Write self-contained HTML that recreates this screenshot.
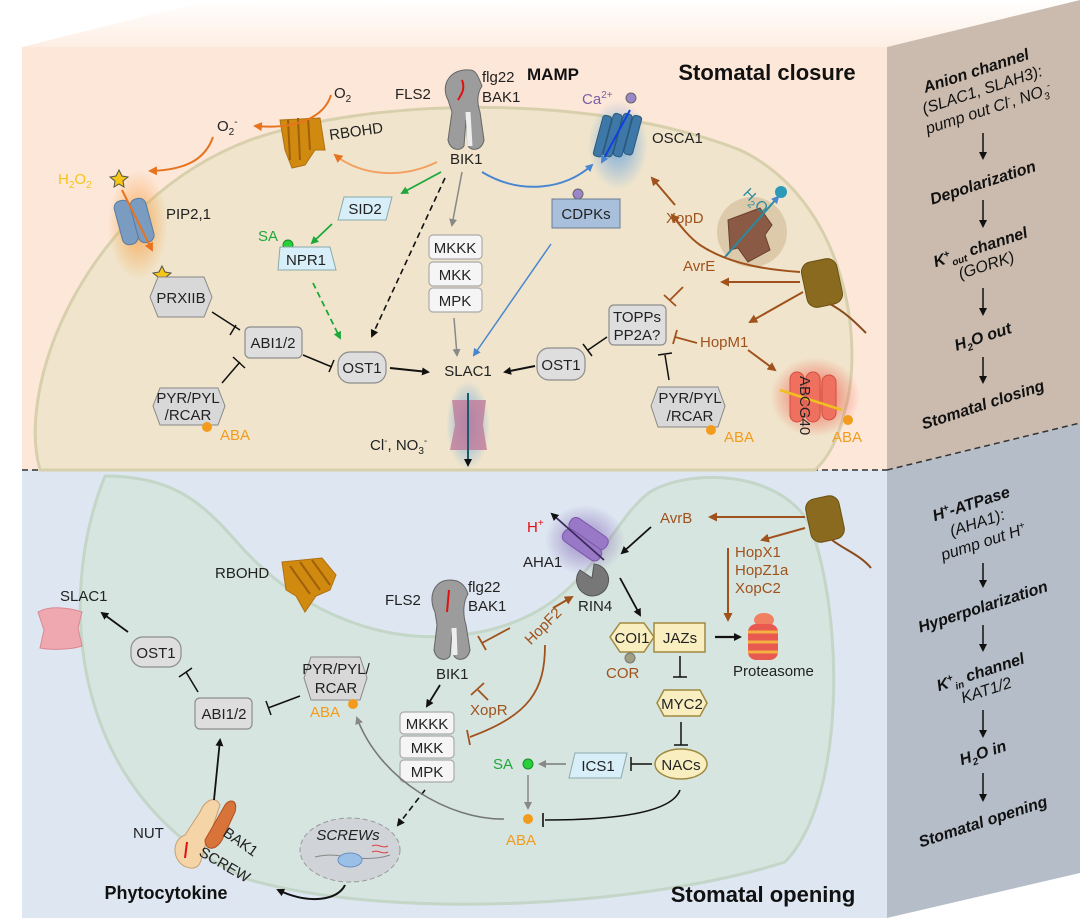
<!DOCTYPE html>
<html><head><meta charset="utf-8"><style>
html,body{margin:0;padding:0;background:#fff;}
svg{display:block;font-family:"Liberation Sans",sans-serif;}
.t{font-size:15px;fill:#222;}
.b{font-size:15px;fill:#a0521d;}
.o{font-size:15px;fill:#f29b1d;}
.bx{fill:#dedede;stroke:#8d8d8d;stroke-width:1.2;}
.wb{fill:#f5f5f5;stroke:#aaa;stroke-width:1.2;}
.rf{font-size:16px;fill:#111;text-anchor:middle;font-style:italic;}
.rb{font-weight:bold;}
</style></head><body>
<svg width="1080" height="924" viewBox="0 0 1080 924" xmlns="http://www.w3.org/2000/svg">
<defs>
<marker id="k" markerWidth="8" markerHeight="8" refX="6" refY="4" orient="auto" markerUnits="userSpaceOnUse"><path d="M0,0 L8,4 L0,8 Z" fill="#111"/></marker>
<marker id="g" markerWidth="8" markerHeight="8" refX="6" refY="4" orient="auto" markerUnits="userSpaceOnUse"><path d="M0,0 L8,4 L0,8 Z" fill="#888"/></marker>
<marker id="gr" markerWidth="8" markerHeight="8" refX="6" refY="4" orient="auto" markerUnits="userSpaceOnUse"><path d="M0,0 L8,4 L0,8 Z" fill="#1fa83a"/></marker>
<marker id="bl" markerWidth="8" markerHeight="8" refX="6" refY="4" orient="auto" markerUnits="userSpaceOnUse"><path d="M0,0 L8,4 L0,8 Z" fill="#4a86d0"/></marker>
<marker id="br" markerWidth="9" markerHeight="9" refX="7" refY="4.5" orient="auto" markerUnits="userSpaceOnUse"><path d="M0,0 L9,4.5 L0,9 Z" fill="#a0521d"/></marker>
<marker id="or" markerWidth="9" markerHeight="9" refX="7" refY="4.5" orient="auto" markerUnits="userSpaceOnUse"><path d="M0,0 L9,4.5 L0,9 Z" fill="#e8731e"/></marker>
<radialGradient id="glowB"><stop offset="0" stop-color="#5a9be0" stop-opacity=".8"/><stop offset="1" stop-color="#5a9be0" stop-opacity="0"/></radialGradient>
<radialGradient id="glowO"><stop offset="0" stop-color="#f79a3a" stop-opacity=".8"/><stop offset="1" stop-color="#f79a3a" stop-opacity="0"/></radialGradient>
<radialGradient id="glowR"><stop offset="0" stop-color="#f23a2a" stop-opacity=".8"/><stop offset="1" stop-color="#f23a2a" stop-opacity="0"/></radialGradient>
<radialGradient id="glowP"><stop offset="0" stop-color="#7a5ab0" stop-opacity=".7"/><stop offset="1" stop-color="#7a5ab0" stop-opacity="0"/></radialGradient>
<linearGradient id="topf" x1="0" y1="0" x2="0" y2="1"><stop offset="0" stop-color="#fff"/><stop offset="1" stop-color="#fdeee3"/></linearGradient>
</defs>

<polygon points="22,47 210,0 1080,0 887,47" fill="url(#topf)"/>
<rect x="22" y="47" width="865" height="423" fill="#fde7d8"/>
<rect x="22" y="470" width="865" height="448" fill="#dde6f1"/>
<polygon points="887,47 1080,0 1080,423 887,470" fill="#cbbbae"/>
<polygon points="887,470 1080,423 1080,873 887,918" fill="#b5bdc8"/>
<line x1="22" y1="470" x2="887" y2="470" stroke="#333" stroke-width="1.5" stroke-dasharray="6,4"/>
<line x1="887" y1="470" x2="1080" y2="423" stroke="#333" stroke-width="1.5" stroke-dasharray="6,4"/>

<path d="M40,470 C15,380 90,200 250,140 C380,95 600,95 740,150 C845,200 865,340 845,410 C838,440 828,458 815,470 Z" fill="#f0e5cc" stroke="#d8d0ad" stroke-width="3"/>
<path d="M105,476 C55,600 70,800 250,880 C400,922 650,905 785,862 C845,800 845,620 810,525 C780,470 690,468 650,492 C605,525 590,610 480,632 C390,650 300,615 235,540 C200,500 170,476 105,476 Z" fill="#d6e5e0" stroke="#c3d6c8" stroke-width="3"/>

<text x="767" y="80" font-size="22" font-weight="bold" text-anchor="middle" fill="#111">Stomatal closure</text>
<text x="527" y="80" font-size="17" font-weight="bold" fill="#111">MAMP</text>
<path d="M470,70 C450,68 440,85 448,100 L452,112 L448,140 C450,150 460,152 464,146 L466,120 L468,146 C472,152 482,150 484,140 L480,112 C476,100 478,92 482,86 C478,76 476,70 470,70Z" fill="#9c9c9c" stroke="#666"/>
<path d="M468,112 L470,146" stroke="#eee" stroke-width="5"/>
<path d="M462,80 C466,90 460,96 458,100" stroke="#e01010" stroke-width="2" fill="none"/>
<text x="395" y="99" class="t">FLS2</text>
<text x="482" y="82" class="t">flg22</text>
<text x="482" y="102" class="t">BAK1</text>
<text x="450" y="164" class="t">BIK1</text>
<text x="334" y="98" class="t">O<tspan font-size="10" dy="4">2</tspan></text>
<text x="217" y="131" class="t">O<tspan font-size="10" dy="4">2</tspan><tspan font-size="10" dy="-10">-</tspan></text>
<path d="M280,120 L320,118 L325,150 L315,150 L305,165 L292,168 L285,150 Z" fill="#d08a10" stroke="#b07010"/>
<path d="M288,120 L290,160 M298,118 L300,160 M308,118 L310,150" stroke="#a06008" stroke-width="2"/>
<text x="330" y="140" class="t" transform="rotate(-8 330 140)">RBOHD</text>
<path d="M331,95 C325,115 300,130 255,126" stroke="#e8731e" stroke-width="2" fill="none" marker-end="url(#or)"/>
<path d="M213,137 C205,160 185,170 150,171" stroke="#e8731e" stroke-width="2" fill="none" marker-end="url(#or)"/>
<path d="M437,162 C400,180 360,175 335,155" stroke="#f3a060" stroke-width="2" fill="none" marker-end="url(#or)"/>
<ellipse cx="138" cy="225" rx="30" ry="55" fill="url(#glowO)"/>
<text x="58" y="184" font-size="15" fill="#f5c518">H<tspan font-size="10" dy="4">2</tspan><tspan dy="-4">O</tspan><tspan font-size="10" dy="4">2</tspan></text>
<polygon points="119,170 122,176 128,177 123,181 124,187 119,184 114,187 115,181 110,177 116,176" fill="#f5c518" stroke="#554"/>
<rect x="118" y="200" width="16" height="45" rx="7" fill="#7a9cc0" stroke="#5a7ca0" transform="rotate(-15 126 222)"/>
<rect x="134" y="198" width="16" height="45" rx="7" fill="#7a9cc0" stroke="#5a7ca0" transform="rotate(-15 142 220)"/>
<line x1="122" y1="190" x2="152" y2="250" stroke="#e8731e" stroke-width="2" marker-end="url(#or)"/>
<text x="166" y="219" class="t">PIP2,1</text>
<polygon points="162,266 165,272 171,273 166,277 167,283 162,280 157,283 158,277 153,273 159,272" fill="#f5c518" stroke="#554"/>
<polygon points="158,277 204,277 212,297 204,317 158,317 150,297" fill="#d8d8d8" stroke="#888"/>
<text x="181" y="303" class="t" text-anchor="middle">PRXIIB</text>
<ellipse cx="618" cy="145" rx="30" ry="45" fill="url(#glowB)"/>
<text x="582" y="104" font-size="15" fill="#7a5ea8">Ca<tspan font-size="10" dy="-6">2+</tspan></text>
<circle cx="631" cy="98" r="5" fill="#9a86c8" stroke="#666"/>
<g fill="#3e78a8" stroke="#2a5878">
<rect x="598" y="115" width="9" height="42" rx="3" transform="rotate(15 602 136)"/>
<rect x="608" y="113" width="9" height="44" rx="3" transform="rotate(15 612 136)"/>
<rect x="618" y="113" width="9" height="44" rx="3" transform="rotate(15 622 136)"/>
<rect x="628" y="115" width="9" height="40" rx="3" transform="rotate(15 632 136)"/>
</g>
<line x1="630" y1="110" x2="602" y2="162" stroke="#1040e0" stroke-width="2" marker-end="url(#bl)"/>
<text x="652" y="143" class="t">OSCA1</text>
<path d="M482,172 C520,195 565,190 592,165" stroke="#4a86d0" stroke-width="2" fill="none" marker-end="url(#bl)"/>
<line x1="441" y1="172" x2="402" y2="193" stroke="#1fa83a" stroke-width="1.8" marker-end="url(#gr)"/>
<line x1="445" y1="178" x2="372" y2="336" stroke="#111" stroke-width="1.6" stroke-dasharray="6,4" marker-end="url(#k)"/>
<line x1="462" y1="172" x2="452" y2="225" stroke="#888" stroke-width="1.5" marker-end="url(#g)"/>
<polygon points="344,197 392,197 386,220 338,220" fill="#d8eef8" stroke="#8aa"/>
<text x="365" y="214" class="t" text-anchor="middle">SID2</text>
<line x1="332" y1="224" x2="312" y2="243" stroke="#1fa83a" stroke-width="1.8" marker-end="url(#gr)"/>
<text x="258" y="241" font-size="15" fill="#1fa83a">SA</text>
<circle cx="288" cy="245" r="5" fill="#2ad03a" stroke="#1a8a2a"/>
<polygon points="280,247 330,247 336,270 278,270" fill="#d8eef8" stroke="#8aa"/>
<text x="306" y="265" class="t" text-anchor="middle">NPR1</text>
<line x1="313" y1="283" x2="340" y2="338" stroke="#1fa83a" stroke-width="1.8" stroke-dasharray="6,4" marker-end="url(#gr)"/>
<rect x="429" y="235" width="53" height="24" rx="4" class="wb"/><text x="455" y="253" class="t" text-anchor="middle">MKKK</text>
<rect x="429" y="262" width="53" height="24" rx="4" class="wb"/><text x="455" y="280" class="t" text-anchor="middle">MKK</text>
<rect x="429" y="288" width="53" height="24" rx="4" class="wb"/><text x="455" y="306" class="t" text-anchor="middle">MPK</text>
<line x1="454" y1="318" x2="457" y2="355" stroke="#888" stroke-width="1.5" marker-end="url(#g)"/>
<circle cx="578" cy="194" r="5" fill="#9a86c8" stroke="#666"/>
<rect x="552" y="199" width="68" height="29" fill="#a9c0dc" stroke="#6a7a90"/>
<text x="586" y="219" class="t" text-anchor="middle">CDPKs</text>
<line x1="551" y1="244" x2="474" y2="355" stroke="#4a86d0" stroke-width="1.5" marker-end="url(#bl)"/>
<rect x="245" y="327" width="57" height="31" rx="5" class="bx"/><text x="273" y="348" class="t" text-anchor="middle">ABI1/2</text>
<path d="M212,312 L240,330 M236,325 L230,335" stroke="#111" stroke-width="1.5"/>
<polygon points="160,388 218,388 225,406 218,425 160,425 153,406" fill="#d8d8d8" stroke="#888"/>
<text x="188" y="403" class="t" text-anchor="middle">PYR/PYL</text>
<text x="188" y="420" class="t" text-anchor="middle">/RCAR</text>
<circle cx="207" cy="427" r="5" fill="#f29b1d"/><text x="220" y="440" class="o">ABA</text>
<path d="M222,383 L240,362 M233,357 L245,368" stroke="#111" stroke-width="1.5"/>
<rect x="338" y="352" width="48" height="31" rx="12" class="bx"/><text x="362" y="373" class="t" text-anchor="middle">OST1</text>
<path d="M303,355 L332,367 M334,360 L329,372" stroke="#111" stroke-width="1.5"/>
<line x1="390" y1="368" x2="428" y2="372" stroke="#111" stroke-width="2" marker-end="url(#k)"/>
<text x="468" y="376" class="t" text-anchor="middle">SLAC1</text>
<rect x="537" y="348" width="48" height="32" rx="12" class="bx"/><text x="561" y="370" class="t" text-anchor="middle">OST1</text>
<line x1="535" y1="366" x2="505" y2="372" stroke="#111" stroke-width="2" marker-end="url(#k)"/>
<ellipse cx="468" cy="425" rx="22" ry="45" fill="url(#glowB)"/>
<path d="M452,400 L486,400 L483,425 L487,450 L450,450 L455,425 Z" fill="#c07a9a" opacity=".8"/>
<line x1="468" y1="393" x2="468" y2="465" stroke="#1a5a6a" stroke-width="2" marker-end="url(#k)"/>
<text x="370" y="450" class="t">Cl<tspan font-size="10" dy="-6">-</tspan><tspan dy="6">, NO</tspan><tspan font-size="10" dy="4">3</tspan><tspan font-size="10" dy="-10">-</tspan></text>
<rect x="609" y="305" width="57" height="40" rx="5" class="bx"/>
<text x="637" y="322" class="t" text-anchor="middle">TOPPs</text>
<text x="637" y="340" class="t" text-anchor="middle">PP2A?</text>
<path d="M607,337 L588,350 M583,344 L592,356" stroke="#111" stroke-width="1.5"/>
<polygon points="658,387 718,387 725,406 718,427 658,427 651,406" fill="#d8d8d8" stroke="#888"/>
<text x="690" y="403" class="t" text-anchor="middle">PYR/PYL</text>
<text x="690" y="421" class="t" text-anchor="middle">/RCAR</text>
<circle cx="711" cy="430" r="5" fill="#f29b1d"/><text x="724" y="442" class="o">ABA</text>
<path d="M669,380 L665,355 M658,355 L672,353" stroke="#111" stroke-width="1.5"/>
<text x="700" y="347" class="b">HopM1</text>
<path d="M697,343 L675,337 M677,330 L673,344" stroke="#a0521d" stroke-width="1.8"/>
<line x1="748" y1="350" x2="775" y2="370" stroke="#a0521d" stroke-width="2" marker-end="url(#br)"/>
<text x="683" y="271" class="b">AvrE</text>
<path d="M683,287 L670,300 M664,295 L676,306" stroke="#a0521d" stroke-width="1.8"/>
<text x="666" y="223" class="b">XopD</text>
<line x1="675" y1="205" x2="652" y2="178" stroke="#a0521d" stroke-width="2" marker-end="url(#br)"/>
<ellipse cx="752" cy="232" rx="35" ry="35" fill="#c8b08a" opacity=".5"/>
<path d="M728,220 L760,208 L772,225 L765,235 L770,250 L748,262 L738,248 L730,250 Z" fill="#8a5a44" stroke="#6a4030"/>
<line x1="725" y1="257" x2="778" y2="197" stroke="#2a8aa0" stroke-width="2" marker-end="url(#bl)"/>
<text x="744" y="200" font-size="15" fill="#2a8aa0" transform="rotate(45 750 195)">H<tspan font-size="10" dy="4">2</tspan><tspan dy="-4">O</tspan></text>
<circle cx="781" cy="192" r="6" fill="#2a9ab8"/>
<rect x="804" y="260" width="36" height="46" rx="10" fill="#8a6a1e" stroke="#6a5010" transform="rotate(-12 822 283)"/>
<path d="M830,304 C845,312 855,322 866,333" stroke="#8a4a1a" stroke-width="2" fill="none"/>
<path d="M800,272 C770,270 730,265 700,245 C690,238 682,228 672,215" stroke="#a0521d" stroke-width="2" fill="none" marker-end="url(#br)"/>
<line x1="800" y1="282" x2="722" y2="282" stroke="#a0521d" stroke-width="2" marker-end="url(#br)"/>
<line x1="803" y1="292" x2="750" y2="322" stroke="#a0521d" stroke-width="2" marker-end="url(#br)"/>
<ellipse cx="815" cy="397" rx="45" ry="40" fill="url(#glowR)"/>
<g fill="#f07060" stroke="#d05040"><rect x="790" y="372" width="14" height="50" rx="7"/><rect x="806" y="372" width="14" height="50" rx="7"/><rect x="822" y="375" width="14" height="45" rx="7"/></g>
<line x1="842" y1="410" x2="780" y2="390" stroke="#f0c020" stroke-width="2.5"/>
<text x="800" y="376" class="t" transform="rotate(90 800 376)">ABCG40</text>
<circle cx="848" cy="420" r="5" fill="#f29b1d"/><text x="832" y="442" class="o">ABA</text>

<g transform="rotate(-18 983 92)">
<text x="983" y="75" class="rf rb" font-style="normal">Anion channel</text>
<text x="983" y="95" class="rf">(SLAC1, SLAH3):</text>
<text x="983" y="115" class="rf">pump out Cl<tspan font-size="10" dy="-6">-</tspan><tspan dy="6">, NO</tspan><tspan font-size="10" dy="4">3</tspan><tspan font-size="10" dy="-10">-</tspan></text>
</g>
<line x1="983" y1="133" x2="983" y2="158" stroke="#111" stroke-width="1.5" marker-end="url(#k)"/>
<text x="983" y="188" class="rf rb" transform="rotate(-18 983 183)">Depolarization</text>
<line x1="983" y1="200" x2="983" y2="226" stroke="#111" stroke-width="1.5" marker-end="url(#k)"/>
<g transform="rotate(-18 983 255)"><text x="983" y="252" class="rf rb">K<tspan font-size="10" dy="-6">+</tspan><tspan font-size="10" dy="10">out</tspan><tspan dy="-4"> channel</tspan></text>
<text x="983" y="271" class="rf">(GORK)</text></g>
<line x1="983" y1="288" x2="983" y2="314" stroke="#111" stroke-width="1.5" marker-end="url(#k)"/>
<text x="983" y="342" class="rf rb" transform="rotate(-18 983 337)">H<tspan font-size="10" dy="4">2</tspan><tspan dy="-4">O out</tspan></text>
<line x1="983" y1="357" x2="983" y2="382" stroke="#111" stroke-width="1.5" marker-end="url(#k)"/>
<text x="983" y="410" class="rf rb" transform="rotate(-18 983 405)">Stomatal closing</text>

<text x="763" y="902" font-size="22" font-weight="bold" text-anchor="middle" fill="#111">Stomatal opening</text>
<text x="166" y="899" font-size="18" font-weight="bold" text-anchor="middle" fill="#111">Phytocytokine</text>
<ellipse cx="585" cy="540" rx="40" ry="35" fill="url(#glowP)"/>
<g fill="#9a78c8" stroke="#7a58a8"><rect x="562" y="525" width="44" height="14" rx="6" transform="rotate(35 584 540)"/><rect x="560" y="538" width="44" height="14" rx="6" transform="rotate(35 582 545)"/></g>
<line x1="604" y1="560" x2="552" y2="514" stroke="#3a2a5a" stroke-width="1.8" marker-end="url(#k)"/>
<text x="527" y="532" font-size="15" fill="#e01010">H<tspan font-size="10" dy="-6">+</tspan></text>
<text x="523" y="567" class="t">AHA1</text>
<path d="M594,564 A16,16 0 1 1 580,570 L592,578 Z" fill="#777" stroke="#555"/>
<text x="578" y="611" class="t">RIN4</text>
<text x="660" y="523" class="b">AvrB</text>
<line x1="651" y1="527" x2="622" y2="553" stroke="#111" stroke-width="1.8" marker-end="url(#k)"/>
<line x1="620" y1="578" x2="640" y2="615" stroke="#111" stroke-width="1.8" marker-end="url(#k)"/>
<rect x="808" y="497" width="34" height="44" rx="10" fill="#8a6a1e" stroke="#6a5010" transform="rotate(-12 825 519)"/>
<path d="M832,540 C845,550 860,555 871,568" stroke="#8a4a1a" stroke-width="2" fill="none"/>
<line x1="805" y1="517" x2="710" y2="517" stroke="#a0521d" stroke-width="2" marker-end="url(#br)"/>
<line x1="805" y1="528" x2="762" y2="540" stroke="#a0521d" stroke-width="2" marker-end="url(#br)"/>
<text x="735" y="557" class="b">HopX1</text>
<text x="735" y="575" class="b">HopZ1a</text>
<text x="735" y="593" class="b">XopC2</text>
<line x1="728" y1="548" x2="728" y2="620" stroke="#a0521d" stroke-width="2" marker-end="url(#br)"/>
<g><ellipse cx="764" cy="620" rx="10" ry="7" fill="#f08060"/><rect x="748" y="624" width="30" height="36" rx="8" fill="#e85a50"/><path d="M748,632 H778 M748,642 H778 M748,652 H778" stroke="#f4b040" stroke-width="3"/></g>
<text x="733" y="676" class="t">Proteasome</text>
<line x1="715" y1="637" x2="740" y2="637" stroke="#111" stroke-width="2.2" marker-end="url(#k)"/>
<polygon points="620,623 644,623 654,637 644,652 620,652 610,637" fill="#f8eec0" stroke="#a08a40" stroke-width="1.5"/>
<text x="632" y="643" class="t" text-anchor="middle">COI1</text>
<rect x="654" y="623" width="51" height="29" fill="#f8eec0" stroke="#a08a40" stroke-width="1.5"/>
<text x="680" y="643" class="t" text-anchor="middle">JAZs</text>
<circle cx="630" cy="658" r="5" fill="#a0a080" stroke="#777"/>
<text x="606" y="678" class="b">COR</text>
<path d="M680,656 L680,677 M673,677 L687,677" stroke="#111" stroke-width="1.5"/>
<polygon points="664,690 700,690 707,703 700,716 664,716 657,703" fill="#f8eec0" stroke="#a08a40" stroke-width="1.5"/>
<text x="682" y="709" class="t" text-anchor="middle">MYC2</text>
<path d="M681,722 L681,745 M674,745 L688,745" stroke="#111" stroke-width="1.5"/>
<ellipse cx="681" cy="764" rx="26" ry="15" fill="#f8eec0" stroke="#a08a40" stroke-width="1.5"/>
<text x="681" y="770" class="t" text-anchor="middle">NACs</text>
<path d="M652,764 L631,764 M631,757 L631,771" stroke="#111" stroke-width="1.5"/>
<polygon points="575,753 627,753 621,778 569,778" fill="#d8eef8" stroke="#8aa"/>
<text x="598" y="771" class="t" text-anchor="middle">ICS1</text>
<line x1="566" y1="764" x2="540" y2="764" stroke="#888" stroke-width="1.8" marker-end="url(#g)"/>
<text x="493" y="769" font-size="15" fill="#1fa83a">SA</text>
<circle cx="528" cy="764" r="5" fill="#2ad03a" stroke="#1a8a2a"/>
<line x1="528" y1="775" x2="528" y2="808" stroke="#888" stroke-width="1.5" marker-end="url(#g)"/>
<circle cx="528" cy="819" r="5" fill="#f29b1d"/>
<text x="506" y="845" class="o">ABA</text>
<path d="M680,790 C672,812 620,820 545,820 M543,813 L543,827" stroke="#111" stroke-width="1.6" fill="none"/>
<text x="215" y="578" class="t">RBOHD</text>
<path d="M282,562 L322,558 L336,575 L330,590 L316,596 L305,612 L296,596 L286,590 Z" fill="#d08a10" stroke="#b07010"/>
<path d="M290,566 L310,594 M300,562 L320,590 M312,560 L330,585" stroke="#a06008" stroke-width="2"/>
<path d="M450,580 C433,580 428,598 435,612 L437,625 L434,650 C436,660 446,662 450,656 L452,632 L454,656 C458,662 468,660 470,650 L466,625 C462,612 464,600 468,594 C465,585 460,580 450,580Z" fill="#9c9c9c" stroke="#666"/>
<path d="M454,628 L455,655" stroke="#eee" stroke-width="5"/>
<path d="M449,590 L447,612" stroke="#e01010" stroke-width="2"/>
<text x="385" y="605" class="t">FLS2</text>
<text x="468" y="592" class="t">flg22</text>
<text x="468" y="611" class="t">BAK1</text>
<text x="436" y="679" class="t">BIK1</text>
<text x="516" y="640" class="b" transform="rotate(-45 530 625)">HopF2</text>
<line x1="553" y1="608" x2="572" y2="597" stroke="#a0521d" stroke-width="2" marker-end="url(#br)"/>
<path d="M510,628 L482,643 M478,636 L486,650" stroke="#a0521d" stroke-width="1.8"/>
<path d="M545,645 C545,690 530,715 470,737 M467,730 L470,745" stroke="#a0521d" stroke-width="1.8" fill="none"/>
<text x="470" y="715" class="b">XopR</text>
<path d="M488,700 L478,690 M471,695 L484,683" stroke="#a0521d" stroke-width="1.8"/>
<line x1="440" y1="685" x2="427" y2="706" stroke="#111" stroke-width="1.8" marker-end="url(#k)"/>
<rect x="400" y="712" width="54" height="22" rx="4" class="wb"/><text x="427" y="729" class="t" text-anchor="middle">MKKK</text>
<rect x="400" y="736" width="54" height="22" rx="4" class="wb"/><text x="427" y="753" class="t" text-anchor="middle">MKK</text>
<rect x="400" y="760" width="54" height="22" rx="4" class="wb"/><text x="427" y="777" class="t" text-anchor="middle">MPK</text>
<line x1="425" y1="790" x2="398" y2="825" stroke="#111" stroke-width="1.6" stroke-dasharray="6,4" marker-end="url(#k)"/>
<ellipse cx="350" cy="850" rx="50" ry="32" fill="#d0d4d8" stroke="#999" stroke-dasharray="5,3"/>
<text x="348" y="840" class="t" text-anchor="middle" font-style="italic">SCREWs</text>
<path d="M315,857 C340,850 360,865 390,855" stroke="#888" fill="none"/>
<ellipse cx="350" cy="860" rx="12" ry="7" fill="#9ac0e8" stroke="#6a90c0"/>
<path d="M372,846 C378,843 382,849 388,846 M372,852 C378,849 382,855 388,852" stroke="#e04040" fill="none"/>
<path d="M345,885 C338,900 310,905 278,890" stroke="#111" stroke-width="2" fill="none" marker-end="url(#k)"/>
<path d="M185,835 C170,840 172,865 190,868 C205,870 200,850 210,835 L220,805 C215,795 205,800 200,812 Z" fill="#f5d4a8" stroke="#c8a070"/>
<path d="M205,840 L225,805 C230,798 238,800 235,812 L222,840 C215,852 205,850 205,840Z" fill="#d8743a" stroke="#b05020"/>
<line x1="187" y1="842" x2="185" y2="858" stroke="#e01010" stroke-width="2"/>
<text x="133" y="838" class="t">NUT</text>
<text x="222" y="835" class="t" transform="rotate(35 222 835)">BAK1</text>
<text x="198" y="855" class="t" transform="rotate(30 198 855)">SCREW</text>
<line x1="214" y1="800" x2="220" y2="740" stroke="#111" stroke-width="1.8" marker-end="url(#k)"/>
<rect x="195" y="698" width="57" height="31" rx="5" class="bx"/><text x="224" y="719" class="t" text-anchor="middle">ABI1/2</text>
<polygon points="311,657 360,657 367,678 360,700 311,700 304,678" fill="#d8d8d8" stroke="#888"/>
<text x="336" y="674" class="t" text-anchor="middle">PYR/PYL/</text>
<text x="336" y="693" class="t" text-anchor="middle">RCAR</text>
<circle cx="353" cy="704" r="5" fill="#f29b1d"/><text x="310" y="717" class="o">ABA</text>
<path d="M300,696 L268,708 M266,701 L271,715" stroke="#111" stroke-width="1.5"/>
<path d="M198,692 L186,672 M179,677 L192,668" stroke="#111" stroke-width="1.5"/>
<rect x="131" y="637" width="50" height="30" rx="12" class="bx"/><text x="156" y="658" class="t" text-anchor="middle">OST1</text>
<line x1="128" y1="632" x2="102" y2="613" stroke="#111" stroke-width="1.8" marker-end="url(#k)"/>
<text x="60" y="601" class="t">SLAC1</text>
<path d="M38,612 C50,605 70,608 82,612 L78,628 L82,646 C70,650 50,650 40,648 L44,630 Z" fill="#f0a8b0" stroke="#d88890"/>
<path d="M504,819 C450,820 380,780 357,718" stroke="#777" stroke-width="1.6" fill="none" marker-end="url(#g)"/>

<g transform="rotate(-18 978 525)">
<text x="978" y="508" class="rf rb">H<tspan font-size="10" dy="-6">+</tspan><tspan dy="6">-ATPase</tspan></text>
<text x="978" y="528" class="rf">(AHA1):</text>
<text x="978" y="548" class="rf">pump out H<tspan font-size="10" dy="-6">+</tspan></text>
</g>
<line x1="983" y1="563" x2="983" y2="586" stroke="#111" stroke-width="1.5" marker-end="url(#k)"/>
<text x="983" y="612" class="rf rb" transform="rotate(-18 983 607)">Hyperpolarization</text>
<line x1="983" y1="625" x2="983" y2="650" stroke="#111" stroke-width="1.5" marker-end="url(#k)"/>
<g transform="rotate(-18 983 680)"><text x="983" y="677" class="rf rb">K<tspan font-size="10" dy="-6">+</tspan><tspan font-size="10" dy="10">in</tspan><tspan dy="-4"> channel</tspan></text>
<text x="983" y="696" class="rf">KAT1/2</text></g>
<line x1="983" y1="710" x2="983" y2="736" stroke="#111" stroke-width="1.5" marker-end="url(#k)"/>
<text x="983" y="758" class="rf rb" transform="rotate(-18 983 753)">H<tspan font-size="10" dy="4">2</tspan><tspan dy="-4">O in</tspan></text>
<line x1="983" y1="773" x2="983" y2="800" stroke="#111" stroke-width="1.5" marker-end="url(#k)"/>
<text x="983" y="827" class="rf rb" transform="rotate(-18 983 822)">Stomatal opening</text>
</svg>
</body></html>
